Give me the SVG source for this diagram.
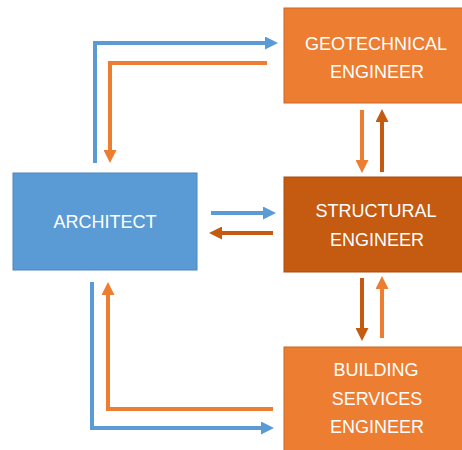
<svg xmlns="http://www.w3.org/2000/svg" width="462" height="450" viewBox="0 0 462 450">
  <style>
    .lbl { font-family: "Liberation Sans", Arial, sans-serif; font-size: 18px; fill: #ffffff; text-anchor: middle; }
    .conn { fill: none; stroke-width: 4; stroke-linejoin: miter; }
    .blue { stroke: #5B9BD5; }
    .orange { stroke: #ED7D31; }
    .dark { stroke: #C55A11; }
  </style>
  <defs>
    <marker id="hBlue" markerUnits="userSpaceOnUse" markerWidth="13" markerHeight="13" viewBox="0 0 13 13" refX="0" refY="6.5" orient="auto">
      <polygon points="0,0 13,6.5 0,13" fill="#5B9BD5"/>
    </marker>
    <marker id="hOrange" markerUnits="userSpaceOnUse" markerWidth="13" markerHeight="13" viewBox="0 0 13 13" refX="0" refY="6.5" orient="auto">
      <polygon points="0,0 13,6.5 0,13" fill="#ED7D31"/>
    </marker>
    <marker id="hDark" markerUnits="userSpaceOnUse" markerWidth="13" markerHeight="13" viewBox="0 0 13 13" refX="0" refY="6.5" orient="auto">
      <polygon points="0,0 13,6.5 0,13" fill="#C55A11"/>
    </marker>
  </defs>
  <rect width="462" height="450" fill="#ffffff"/>

  <g id="geotechnical">
    <rect x="284" y="8" width="190" height="95" fill="#ED7D31" stroke="#C9681F" stroke-width="1"/>
    <text class="lbl" x="376" y="50">GEOTECHNICAL</text>
    <text class="lbl" x="377" y="78">ENGINEER</text>
  </g>
  <g id="architect">
    <rect x="13" y="173" width="184" height="97" fill="#5B9BD5" stroke="#4A86BE" stroke-width="1"/>
    <text class="lbl" x="105" y="228">ARCHITECT</text>
  </g>
  <g id="structural">
    <rect x="284" y="177" width="190" height="95" fill="#C55A11" stroke="#A94C0E" stroke-width="1"/>
    <text class="lbl" x="376" y="217">STRUCTURAL</text>
    <text class="lbl" x="377" y="246">ENGINEER</text>
  </g>
  <g id="building">
    <rect x="284" y="347" width="190" height="110" fill="#ED7D31" stroke="#C9681F" stroke-width="1"/>
    <text class="lbl" x="376" y="376">BUILDING</text>
    <text class="lbl" x="377" y="405">SERVICES</text>
    <text class="lbl" x="377" y="433">ENGINEER</text>
  </g>

  <g id="connectors">
    <path class="conn blue" d="M95,163 V43 H265" marker-end="url(#hBlue)"/>
    <path class="conn orange" d="M267,63 H110 V150" marker-end="url(#hOrange)"/>
    <path class="conn blue" d="M211,213 H263" marker-end="url(#hBlue)"/>
    <path class="conn dark" d="M273,233 H222" marker-end="url(#hDark)"/>
    <path class="conn blue" d="M92,282 V428 H261" marker-end="url(#hBlue)"/>
    <path class="conn orange" d="M273,409 H108 V295" marker-end="url(#hOrange)"/>
    <path class="conn orange" d="M362,110 V160" marker-end="url(#hOrange)"/>
    <path class="conn dark" d="M382,172 V122" marker-end="url(#hDark)"/>
    <path class="conn dark" d="M362,278 V328" marker-end="url(#hDark)"/>
    <path class="conn orange" d="M382,338 V289" marker-end="url(#hOrange)"/>
  </g>
</svg>
